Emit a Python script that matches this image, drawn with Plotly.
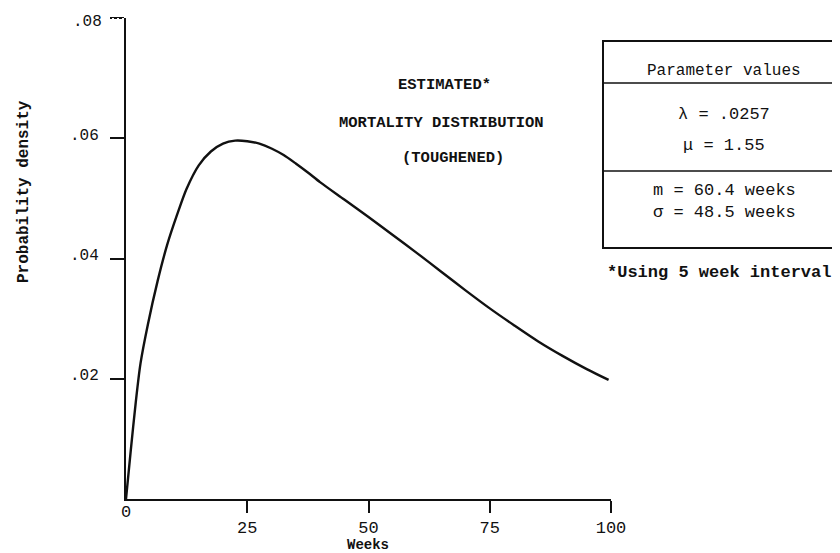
import plotly.graph_objects as go

# ---- data ----
weeks = [0, 1, 2, 3, 4.5, 6.5, 8.5, 10.5, 12.5, 15, 17.5, 20, 22.5, 25, 27.5, 30,
         32.5, 35, 37.5, 40, 45, 50, 55, 60, 65, 70, 75, 80, 85, 90, 95, 99.5]
density = [0.0, 0.0082, 0.0160, 0.0226, 0.0290, 0.0362, 0.0423, 0.0472, 0.0516,
           0.0555, 0.0578, 0.0591, 0.0596, 0.0595, 0.0591, 0.0583, 0.0572, 0.0558,
           0.0543, 0.0527, 0.0498, 0.0469, 0.0439, 0.0409, 0.0378, 0.0347, 0.0317,
           0.0289, 0.0262, 0.0238, 0.0216, 0.0198]

x_ticks = [25, 50, 75, 100]
x_ticktext = ["25", "50", "75", "100"]
y_ticks = [0.02, 0.04, 0.06, 0.08]
y_ticktext = [".02", ".04", ".06", ".08"]

title_lines = ["ESTIMATED*", "MORTALITY DISTRIBUTION", "(TOUGHENED)"]
box_header = "Parameter values"
box_params = ["λ = .0257", "μ = 1.55"]
box_moments = ["m = 60.4 weeks", "σ = 48.5 weeks"]
footnote = "*Using 5 week intervals"

# ---- layout geometry (pixels) ----
W, H = 840, 553
L, R, T, B = 118, 603, 10, 491   # x=0, x=100, y=.08, y=0 in px

def px(xp):
    return (xp - L) / (R - L)

def py(yp):
    return (B - yp) / (B - T)

FONT = "Liberation Mono"
INK = "#111111"

fig = go.Figure()
fig.add_trace(go.Scatter(x=weeks, y=density, mode="lines",
                         line=dict(color=INK, width=2.4, shape="spline", smoothing=0.8),
                         hoverinfo="skip", showlegend=False))

fig.update_layout(
    width=W, height=H,
    margin=dict(l=L, r=W - R, t=T, b=H - B, pad=0),
    paper_bgcolor="white", plot_bgcolor="white",
    font=dict(family=FONT, color=INK, size=16),
    showlegend=False,
)
# the top (.08) tick label is written as an annotation so it is never dropped
axis_ticktext = y_ticktext[:-1] + [""]
fig.update_xaxes(range=[0, 100], showgrid=False, zeroline=False,
                 showline=True, linecolor=INK, linewidth=2,
                 ticks="outside", ticklen=12, tickwidth=2, tickcolor=INK,
                 tickvals=x_ticks, ticktext=x_ticktext,
                 tickfont=dict(family=FONT, size=17, color=INK),
                 ticklabelstandoff=0)
fig.update_yaxes(range=[0, y_ticks[-1]], showgrid=False, zeroline=False,
                 showline=True, linecolor=INK, linewidth=2,
                 ticks="outside", ticklen=14, tickwidth=2, tickcolor=INK,
                 tickvals=y_ticks, ticktext=axis_ticktext,
                 tickfont=dict(family=FONT, size=16, color=INK),
                 ticklabelstandoff=8, ticklabelshift=-4)

ann = []
def text(xp, yp, s, size=16, bold=False, angle=0, xanchor="center", y_data=None):
    a = dict(x=px(xp), y=py(yp), xref="paper", yref="paper",
             text=f"<b>{s}</b>" if bold else s, showarrow=False,
             xanchor=xanchor, yanchor="middle", textangle=angle,
             font=dict(family=FONT, size=size, color=INK))
    if y_data is not None:
        a["y"] = y_data
        a["yref"] = "y"
        a["yshift"] = -4
    ann.append(a)

# top y tick label and origin label
text(L - 14 - 8, 0, y_ticktext[-1], size=16, xanchor="right", y_data=y_ticks[-1])
text(118, 504, "0", size=17)
# axis titles
text(360, 537, "Weeks", size=14, bold=True)
text(16, 184, "Probability density", size=16, bold=True, angle=-90)
# title
for s, xx, yy in zip(title_lines, [436, 433, 445], [77, 115, 150]):
    text(xx, yy, s, size=15.5, bold=True)
# parameter box text
text(716, 63, box_header, size=16)
for s, yy in zip(box_params, [107, 137]):
    text(716, yy, s, size=17)
for s, yy in zip(box_moments, [182, 204]):
    text(716, yy, s, size=17)
text(716, 264, footnote, size=17, bold=True)

fig.update_layout(annotations=ann)

shapes = [
    # dashed look of the top tick in the original
    dict(type="line", xref="paper", yref="y", x0=px(L - 14), x1=px(L - 1),
         y0=y_ticks[-1], y1=y_ticks[-1], line=dict(color="white", width=2, dash="2px,3px")),
    # box outline and dividers
    dict(type="rect", xref="paper", yref="paper", x0=px(595), x1=px(836),
         y0=py(240), y1=py(33), line=dict(color=INK, width=2)),
    dict(type="line", xref="paper", yref="paper", x0=px(595), x1=px(836),
         y0=py(75), y1=py(75), line=dict(color=INK, width=1.5)),
    dict(type="line", xref="paper", yref="paper", x0=px(595), x1=px(836),
         y0=py(163), y1=py(163), line=dict(color=INK, width=1.5)),
]
fig.update_layout(shapes=shapes)

fig.write_html("out.html")
